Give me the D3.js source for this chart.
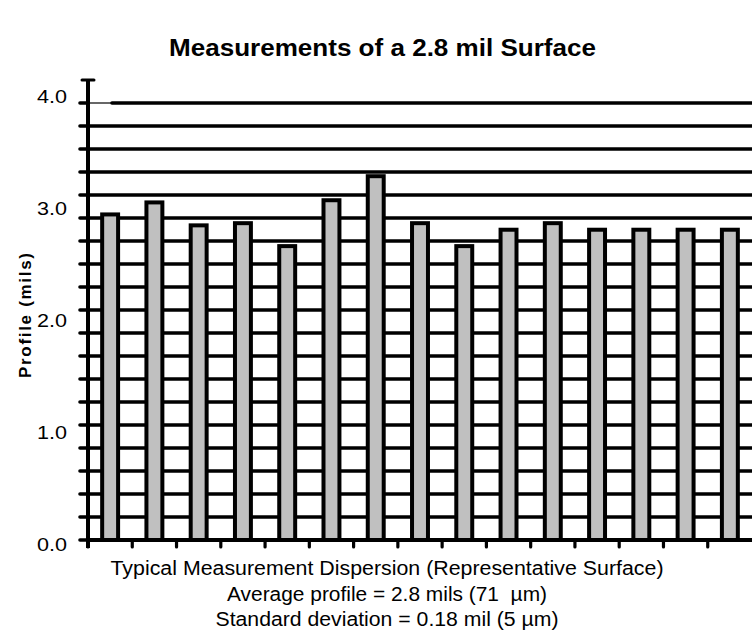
<!DOCTYPE html>
<html>
<head>
<meta charset="utf-8">
<script src="https://cdn.jsdelivr.net/npm/d3@7"></script>
<style>
  html, body { margin: 0; padding: 0; background: #fff; }
  svg { display: block; }
</style>
</head>
<body>
<svg id="chart" width="752" height="630"></svg>
<script>
// ---- data ----
const categories = ["1","2","3","4","5","6","7","8","9","10","11","12","13","14","15"];
const profileMils = [2.98, 3.09, 2.88, 2.90, 2.69, 3.11, 3.33, 2.90, 2.69, 2.84, 2.90, 2.84, 2.84, 2.84, 2.84];
const yTickValues = [0, 1, 2, 3, 4];
const yTickLabels = ["0.0", "1.0", "2.0", "3.0", "4.0"];
const gridValues = [0, 0.211, 0.421, 0.632, 0.842, 1.053, 1.263, 1.474, 1.684, 1.895,
                    2.105, 2.316, 2.526, 2.737, 2.947, 3.158, 3.368, 3.579, 3.789, 4.0];
const titleText = "Measurements of a 2.8 mil Surface";
const yTitle = "Profile (mils)";
const footerLines = [
  "Typical Measurement Dispersion (Representative Surface)",
  "Average profile = 2.8 mils (71  µm)",
  "Standard deviation = 0.18 mil (5 µm)"
];

// ---- layout ----
const svg = d3.select("#chart");
const plotLeft = 88, plotRight = 752, plotTop = 103, plotBottom = 540;
const font = "'Liberation Sans', Arial, Helvetica, sans-serif";
const footerWidths = [553, 320, 343];

const y = d3.scaleLinear().domain([0, 4]).range([plotBottom, plotTop]);
const yLab = d3.scaleLinear().domain([0, 4]).range([545, 97]);
const x = d3.scaleBand().domain(categories).range([plotLeft, plotRight]).paddingInner(0.64).paddingOuter(0.32);
const xTick = d3.scaleBand().domain(categories).range([plotLeft, plotRight]).padding(0);

// title
svg.append("text")
  .attr("x", 169).attr("y", 56)
  .attr("font-family", font).attr("font-weight", "bold")
  .attr("font-size", 23)
  .attr("textLength", 427).attr("lengthAdjust", "spacingAndGlyphs")
  .attr("fill", "#000")
  .text(titleText);

// gridlines
const g = svg.append("g");
g.selectAll("line.grid").data(gridValues).join("line")
  .attr("class", "grid")
  .attr("x1", d => d === 4 ? 112 : 80)
  .attr("x2", plotRight)
  .attr("y1", d => y(d)).attr("y2", d => y(d))
  .attr("stroke", "#000").attr("stroke-width", 3.6)
  .attr("stroke-linecap", "round");
// thin start of the top gridline
g.append("line")
  .attr("x1", 80).attr("x2", 112)
  .attr("y1", y(4)).attr("y2", y(4))
  .attr("stroke", "#000").attr("stroke-width", 1.2);
g.append("line")
  .attr("x1", 80).attr("x2", 88)
  .attr("y1", y(4)).attr("y2", y(4))
  .attr("stroke", "#000").attr("stroke-width", 3.6)
  .attr("stroke-linecap", "round");

// bars
g.selectAll("rect.bar").data(profileMils).join("rect")
  .attr("class", "bar")
  .attr("x", (d, i) => x(categories[i]))
  .attr("width", x.bandwidth())
  .attr("y", d => y(d))
  .attr("height", d => y(0) - y(d))
  .attr("fill", "#c0c0c0")
  .attr("stroke", "#000").attr("stroke-width", 4);

// y axis line + cap
g.append("line")
  .attr("x1", plotLeft).attr("x2", plotLeft)
  .attr("y1", 80).attr("y2", plotBottom + 8)
  .attr("stroke", "#000").attr("stroke-width", 4);
g.append("line")
  .attr("x1", 82).attr("x2", 94)
  .attr("y1", 80).attr("y2", 80)
  .attr("stroke", "#000").attr("stroke-width", 3)
  .attr("stroke-linecap", "round");

// x axis baseline
g.append("line")
  .attr("x1", plotLeft).attr("x2", plotRight)
  .attr("y1", plotBottom).attr("y2", plotBottom)
  .attr("stroke", "#000").attr("stroke-width", 4);

// x ticks at band boundaries
g.selectAll("line.xtick").data(categories).join("line")
  .attr("class", "xtick")
  .attr("x1", d => xTick(d)).attr("x2", d => xTick(d))
  .attr("y1", plotBottom).attr("y2", plotBottom + 7)
  .attr("stroke", "#000").attr("stroke-width", 3.2)
  .attr("stroke-linecap", "round");

// y tick labels
svg.selectAll("text.ylab").data(yTickValues).join("text")
  .attr("class", "ylab")
  .attr("x", 37).attr("y", d => yLab(d))
  .attr("dy", "0.36em")
  .attr("font-family", font).attr("font-size", 18)
  .attr("textLength", 30).attr("lengthAdjust", "spacingAndGlyphs")
  .attr("fill", "#000")
  .text((d, i) => yTickLabels[i]);

// y axis title
svg.append("text")
  .attr("transform", "translate(31,378) rotate(-90)")
  .attr("font-family", font).attr("font-weight", "bold")
  .attr("font-size", 17)
  .attr("textLength", 125).attr("lengthAdjust", "spacing")
  .attr("fill", "#000")
  .text(yTitle);

// footer lines
svg.selectAll("text.foot").data(footerLines).join("text")
  .attr("class", "foot")
  .attr("x", (d, i) => 387 - footerWidths[i] / 2)
  .attr("y", (d, i) => 575 + i * 25.5)
  .attr("font-family", font).attr("font-size", 20)
  .attr("textLength", (d, i) => footerWidths[i]).attr("lengthAdjust", "spacingAndGlyphs")
  .attr("fill", "#000")
  .style("white-space", "pre")
  .text(d => d);
</script>
</body>
</html>
